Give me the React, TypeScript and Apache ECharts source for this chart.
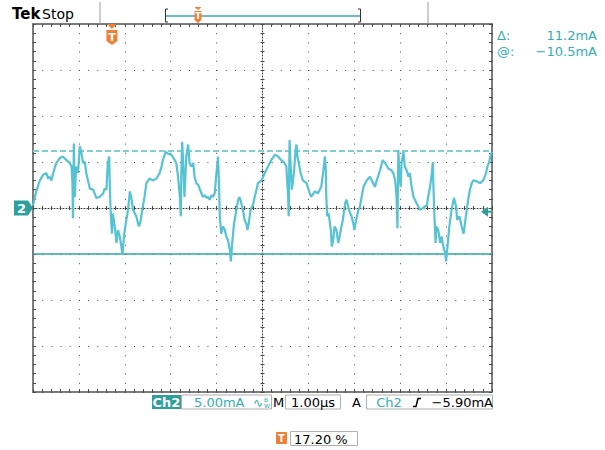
import React, { useEffect, useRef } from "react";
import * as echarts from "echarts";

// Horizontal: 1.00 µs/div, 10 divisions
const TIME_US: number[] = [
  0, 0.07, 0.15, 0.22, 0.29, 0.33, 0.36, 0.4, 0.44, 0.47, 0.51, 0.58, 0.65, 0.73, 0.8, 0.84, 0.86, 0.87, 0.89, 0.91,
  0.94, 0.98, 1.02, 1.05, 1.09, 1.13, 1.16, 1.24, 1.31, 1.38, 1.45, 1.53, 1.56, 1.6, 1.63, 1.66, 1.67, 1.69, 1.72, 1.74,
  1.78, 1.82, 1.85, 1.89, 1.92, 1.95, 1.98, 2.02, 2.07, 2.11, 2.14, 2.18, 2.22, 2.25, 2.29, 2.31, 2.34, 2.38, 2.43, 2.47,
  2.54, 2.61, 2.69, 2.76, 2.8, 2.83, 2.89, 2.94, 3.01, 3.09, 3.12, 3.16, 3.2, 3.22, 3.23, 3.25, 3.27, 3.3, 3.34, 3.38,
  3.41, 3.45, 3.49, 3.52, 3.56, 3.6, 3.63, 3.67, 3.7, 3.74, 3.78, 3.81, 3.85, 3.89, 3.92, 3.96, 3.99, 4.02, 4.03, 4.05,
  4.07, 4.1, 4.14, 4.18, 4.21, 4.25, 4.29, 4.31, 4.34, 4.38, 4.43, 4.47, 4.5, 4.54, 4.58, 4.61, 4.65, 4.67, 4.7, 4.74,
  4.79, 4.83, 4.87, 4.9, 4.98, 5.05, 5.12, 5.19, 5.27, 5.34, 5.41, 5.48, 5.52, 5.54, 5.56, 5.57, 5.59, 5.61, 5.64, 5.69,
  5.72, 5.74, 5.76, 5.79, 5.83, 5.88, 5.96, 6.03, 6.06, 6.14, 6.21, 6.28, 6.32, 6.36, 6.38, 6.39, 6.41, 6.44, 6.49, 6.51,
  6.54, 6.57, 6.61, 6.65, 6.68, 6.72, 6.75, 6.8, 6.83, 6.87, 6.91, 6.94, 6.98, 7.0, 7.04, 7.09, 7.12, 7.16, 7.2, 7.27,
  7.34, 7.41, 7.45, 7.49, 7.56, 7.62, 7.67, 7.74, 7.81, 7.85, 7.89, 7.92, 7.94, 7.96, 7.98, 8.01, 8.03, 8.07, 8.1, 8.14,
  8.18, 8.21, 8.25, 8.29, 8.36, 8.43, 8.5, 8.58, 8.61, 8.65, 8.69, 8.71, 8.72, 8.74, 8.77, 8.79, 8.83, 8.87, 8.9, 8.94,
  8.98, 9.0, 9.03, 9.07, 9.12, 9.17, 9.22, 9.24, 9.29, 9.34, 9.38, 9.41, 9.45, 9.48, 9.52, 9.56, 9.59, 9.67, 9.74, 9.81,
  9.87, 9.9, 9.94, 9.97, 10.0,
];

// Channel 2 current, mA (5.00 mA/div)
const CURRENT_MA: number[] = [
  -5.2, -3.7, -2.5, -1.9, -1.7, -2.3, -2.1, -2.5, -1.7, -1.2, -0.6, -0.1, 0.1, -0.3, -0.6, -1.0, -2.8, -6.6, 1.5, -4.3,
  -1.0, -1.7, 1.2, 0.6, -0.6, -0.5, -1.7, -3.4, -3.5, -4.4, -4.3, -3.9, -3.4, -3.5, -0.6, 0.1, -2.5, -5.7, -8.3, -6.1,
  -7.5, -9.3, -7.9, -8.6, -9.5, -10.6, -8.6, -7.2, -5.7, -3.7, -4.3, -5.7, -6.1, -6.4, -7.2, -7.5, -7.0, -5.7, -4.3, -2.8,
  -2.3, -2.5, -2.3, -1.7, -1.0, -0.3, 0.6, 0.4, 0.3, -0.3, -0.6, -2.1, -4.3, -6.4, -2.1, 1.7, -0.3, -4.3, 0.1, 1.4,
  -0.6, -1.0, -0.6, -2.1, -2.8, -3.0, -3.4, -3.9, -4.3, -4.1, -4.4, -4.3, -4.6, -4.1, -4.3, -3.9, -2.1, -0.5, 0.1, -2.5,
  -6.4, -8.3, -7.5, -7.9, -8.6, -9.0, -10.1, -11.3, -9.3, -7.2, -5.7, -4.6, -4.3, -5.0, -5.9, -6.8, -7.2, -7.9, -7.2, -5.7,
  -5.2, -4.3, -3.5, -2.8, -2.5, -1.7, -1.0, -0.3, 0.3, 0.1, -0.3, -0.6, -1.0, -2.8, -4.4, -6.4, 1.9, -0.6, -3.5, -1.4,
  0.8, 1.4, 0.1, -0.6, -1.7, -2.5, -2.8, -3.9, -4.3, -3.7, -3.9, -3.2, -1.7, 0.1, -1.4, -4.3, -6.4, -6.1, -7.9, -9.7,
  -9.0, -7.5, -7.9, -9.3, -8.6, -7.5, -6.8, -5.0, -4.6, -5.4, -6.1, -6.4, -7.2, -7.9, -6.8, -5.7, -5.4, -4.3, -3.2, -2.5,
  -2.1, -2.8, -3.2, -2.5, -1.4, -0.3, -0.6, -1.2, -1.4, -1.7, -2.5, -4.3, -7.7, 0.8, -1.7, -3.2, -0.6, 0.6, -1.0, -1.4,
  -2.1, -1.7, -3.2, -4.3, -5.0, -5.7, -5.5, -5.2, -4.3, -3.2, -1.7, -0.5, -2.5, -5.7, -9.3, -7.5, -7.9, -9.3, -8.6, -9.7,
  -10.4, -11.3, -9.7, -7.5, -5.7, -4.4, -5.4, -6.8, -6.4, -7.5, -8.3, -7.2, -5.7, -4.6, -3.5, -2.8, -2.5, -2.6, -2.8, -2.5,
  -1.7, -1.0, -0.5, 0.3, 0.6,
];

const SCREEN_TIME_US = [0, 10];
const SCREEN_CURRENT_MA = [-25.5, 14.5];
const DIV_X = [-5, 5];
const DIV_Y = [-4, 4];
const CURSOR_DASHED_MA = 0.7;
const CURSOR_SOLID_MA = -10.5;
const GROUND_MA = -5.5;
const TRIGGER_POS_US = 1.72;
const TRIGGER_LEVEL_MA = -5.9;

const CURSOR_LABELS = ["\u0394:", "@:"];
const CURSOR_VALUES = ["11.2mA", "\u221210.5mA"];
const CH_LABEL = "Ch2";
const CH_SCALE = "5.00mA";
const TIME_SCALE = "1.00\u00b5s";
const TRIG_LEVEL_TEXT = "\u22125.90mA";
const TRIG_POS_TEXT = "17.20 %";

const GRID = { left: 33, top: 24, width: 459, height: 368 };
const TEAL = "#2e9f9a";
const TEAL_TEXT = "#33aeb0";
const ORANGE = "#f07f33";
const TRACE = "#55c3d3";
const DOT = "#4a4a4a";
const FONT = '"DejaVu Sans", sans-serif';

const tickCfg = (inside: boolean, len: number) => ({
  axisTick: { show: true, inside, length: len, lineStyle: { color: DOT, width: 1 } },
  minorTick: { show: true, splitNumber: 5, length: len, lineStyle: { color: DOT, width: 1 } },
  axisLabel: { show: false },
});

function text(t: string, x: number, y: number, fill: string, font: string, align = "left") {
  return {
    type: "text",
    x,
    y,
    silent: true,
    z: 100,
    style: {
      text: t,
      fill,
      font,
      textAlign: align,
      align,
      textVerticalAlign: "middle",
      verticalAlign: "middle",
    },
  };
}

function buildGraphic(tx: number, gy: number, ty: number) {
  const els: any[] = [];
  // top header
  els.push(text("Tek", 12, 14, "#000", `bold 15px ${FONT}`));
  els.push(text("Stop", 42, 14, "#000", `14px ${FONT}`));
  els.push({ type: "line", silent: true, shape: { x1: 100, y1: 2, x2: 100, y2: 24 }, style: { stroke: "#9a9a9a", lineWidth: 1 } });
  els.push({ type: "line", silent: true, shape: { x1: 428, y1: 2, x2: 428, y2: 24 }, style: { stroke: "#9a9a9a", lineWidth: 1 } });
  // record bracket
  els.push({ type: "polyline", silent: true, shape: { points: [[168, 9], [165.5, 9], [165.5, 22], [168, 22]] }, style: { stroke: "#333", lineWidth: 1, fill: "none" } });
  els.push({ type: "polyline", silent: true, shape: { points: [[358, 9], [360.5, 9], [360.5, 22], [358, 22]] }, style: { stroke: "#333", lineWidth: 1, fill: "none" } });
  els.push({ type: "line", silent: true, shape: { x1: 166, y1: 16, x2: 360, y2: 16 }, style: { stroke: "#3aa9a9", lineWidth: 1.5 } });
  els.push({ type: "polygon", silent: true, shape: { points: [[194.5, 7], [201.5, 7], [198, 10]] }, style: { fill: ORANGE } });
  els.push({ type: "polygon", silent: true, shape: { points: [[194.5, 11], [201.5, 11], [201.5, 20], [198, 23], [194.5, 20]] }, style: { fill: ORANGE } });
  els.push(text("T", 198, 16, "#fff", `bold 9px ${FONT}`, "center"));
  // trigger position marker on graticule
  els.push({ type: "polygon", silent: true, z: 100, shape: { points: [[tx - 5, 24], [tx + 5, 24], [tx, 29]] }, style: { fill: ORANGE } });
  els.push({ type: "polygon", silent: true, z: 100, shape: { points: [[tx - 5.5, 30], [tx + 5.5, 30], [tx + 5.5, 41], [tx, 45], [tx - 5.5, 41]] }, style: { fill: ORANGE } });
  els.push(text("T", tx, 37, "#fff", `bold 11px ${FONT}`, "center"));
  // ground marker "2"
  els.push({ type: "polygon", silent: true, z: 100, shape: { points: [[14, gy - 7.5], [28, gy - 7.5], [33, gy], [28, gy + 7.5], [14, gy + 7.5]] }, style: { fill: TEAL } });
  els.push(text("2", 21.5, gy + 0.5, "#fff", `bold 13px ${FONT}`, "center"));
  // trigger level arrow
  els.push({ type: "polygon", silent: true, z: 100, shape: { points: [[481, ty], [488, ty - 5], [488, ty + 5]] }, style: { fill: TEAL } });
  els.push({ type: "line", silent: true, z: 100, shape: { x1: 487, y1: ty, x2: 492, y2: ty }, style: { stroke: TEAL, lineWidth: 2 } });
  // cursor readouts
  els.push(text(CURSOR_LABELS[0], 497, 35, TEAL_TEXT, `13px ${FONT}`));
  els.push(text(CURSOR_VALUES[0], 597, 35, TEAL_TEXT, `13px ${FONT}`, "right"));
  els.push(text(CURSOR_LABELS[1], 497, 51, TEAL_TEXT, `13px ${FONT}`));
  els.push(text(CURSOR_VALUES[1], 597, 51, TEAL_TEXT, `13px ${FONT}`, "right"));
  // status bar
  const sy = 395;
  const sh = 14;
  const cy = sy + sh / 2 + 0.5;
  els.push({ type: "rect", silent: true, shape: { x: 152, y: sy, width: 29, height: sh }, style: { fill: TEAL } });
  els.push(text(CH_LABEL, 166.5, cy, "#fff", `bold 13px ${FONT}`, "center"));
  els.push({ type: "rect", silent: true, shape: { x: 181.5, y: sy, width: 90, height: sh }, style: { fill: "none", stroke: "#b0b0b0", lineWidth: 1 } });
  els.push(text(CH_SCALE, 194, cy, TEAL_TEXT, `13px ${FONT}`));
  els.push(text("\u223f", 253, cy, TEAL_TEXT, `12px ${FONT}`));
  els.push(text("B", 264, cy - 3, TEAL_TEXT, `6px ${FONT}`));
  els.push(text("W", 264, cy + 3, TEAL_TEXT, `6px ${FONT}`));
  els.push(text("M", 278.5, cy, "#000", `13px ${FONT}`, "center"));
  els.push({ type: "rect", silent: true, shape: { x: 285.5, y: sy, width: 55, height: sh }, style: { fill: "none", stroke: "#b0b0b0", lineWidth: 1 } });
  els.push(text(TIME_SCALE, 313, cy, "#000", `13px ${FONT}`, "center"));
  els.push(text("A", 356.5, cy, "#000", `13px ${FONT}`, "center"));
  els.push({ type: "rect", silent: true, shape: { x: 366.5, y: sy, width: 126, height: sh }, style: { fill: "none", stroke: "#b0b0b0", lineWidth: 1 } });
  els.push(text(CH_LABEL, 389, cy, TEAL_TEXT, `13px ${FONT}`, "center"));
  els.push({ type: "polyline", silent: true, shape: { points: [[413, cy + 4], [416, cy + 4], [418, cy - 4], [421, cy - 4]] }, style: { stroke: "#000", lineWidth: 1.5, fill: "none" } });
  els.push(text(TRIG_LEVEL_TEXT, 493, cy, "#000", `13px ${FONT}`, "right"));
  // trigger position readout
  els.push({ type: "rect", silent: true, shape: { x: 276, y: 432, width: 11, height: 12, r: 1 }, style: { fill: ORANGE } });
  els.push(text("T", 281.5, 438.5, "#fff", `bold 10px ${FONT}`, "center"));
  els.push({ type: "rect", silent: true, shape: { x: 290.5, y: 431.5, width: 67, height: 14 }, style: { fill: "none", stroke: "#b0b0b0", lineWidth: 1 } });
  els.push(text(TRIG_POS_TEXT, 294, 439, "#000", `13px ${FONT}`));
  return els;
}

export default function App() {
  const ref = useRef<HTMLDivElement>(null);
  useEffect(() => {
    if (!ref.current) return;
    const chart = echarts.init(ref.current, null, { renderer: "svg", width: 605, height: 450 });
    const data = TIME_US.map((t, i) => [t, CURRENT_MA[i]]);
    const gridBox = { left: GRID.left, top: GRID.top, width: GRID.width, height: GRID.height };
    const centerLine = { color: "#3a3a3a", width: 1, type: [1, 2] };
    chart.setOption({
      animation: false,
      backgroundColor: "#ffffff",
      grid: [
        { ...gridBox, show: true, borderColor: "#7c7c7c", borderWidth: 2, backgroundColor: "transparent" },
        { ...gridBox },
        { ...gridBox },
      ],
      xAxis: [
        { gridIndex: 0, type: "value", min: SCREEN_TIME_US[0], max: SCREEN_TIME_US[1], show: false },
        {
          gridIndex: 1, type: "value", min: DIV_X[0], max: DIV_X[1], interval: 1, position: "bottom",
          axisLine: { show: false, onZero: false }, ...tickCfg(true, 3),
          splitLine: { show: true, lineStyle: { color: DOT, width: 1, type: [1, 8.2] } },
        },
        {
          gridIndex: 1, type: "value", min: DIV_X[0], max: DIV_X[1], interval: 1, position: "top",
          axisLine: { show: false, onZero: false }, ...tickCfg(true, 3), splitLine: { show: false },
        },
        {
          gridIndex: 2, type: "value", min: DIV_X[0], max: DIV_X[1], interval: 1, position: "bottom",
          axisLine: { show: true, onZero: true, lineStyle: centerLine },
          ...tickCfg(true, 2), splitLine: { show: false },
        },
        {
          gridIndex: 2, type: "value", min: DIV_X[0], max: DIV_X[1], interval: 1, position: "top",
          axisLine: { show: false, onZero: true, lineStyle: centerLine },
          ...tickCfg(true, 2), splitLine: { show: false },
        },
      ],
      yAxis: [
        { gridIndex: 0, type: "value", min: SCREEN_CURRENT_MA[0], max: SCREEN_CURRENT_MA[1], show: false },
        {
          gridIndex: 1, type: "value", min: DIV_Y[0], max: DIV_Y[1], interval: 1, position: "left",
          axisLine: { show: false, onZero: false }, ...tickCfg(true, 3),
          splitLine: { show: true, lineStyle: { color: DOT, width: 1, type: [1, 8.18] } },
        },
        {
          gridIndex: 1, type: "value", min: DIV_Y[0], max: DIV_Y[1], interval: 1, position: "right",
          axisLine: { show: false, onZero: false }, ...tickCfg(true, 3), splitLine: { show: false },
        },
        {
          gridIndex: 2, type: "value", min: DIV_Y[0], max: DIV_Y[1], interval: 1, position: "left",
          axisLine: { show: true, onZero: true, lineStyle: centerLine },
          ...tickCfg(true, 2), splitLine: { show: false },
        },
        {
          gridIndex: 2, type: "value", min: DIV_Y[0], max: DIV_Y[1], interval: 1, position: "right",
          axisLine: { show: false, onZero: true, lineStyle: centerLine },
          ...tickCfg(true, 2), splitLine: { show: false },
        },
      ],
      series: [
        {
          type: "line",
          xAxisIndex: 0,
          yAxisIndex: 0,
          data,
          showSymbol: false,
          symbol: "none",
          silent: true,
          z: 5,
          lineStyle: { color: TRACE, width: 2.2 },
          markLine: {
            silent: true,
            symbol: "none",
            label: { show: false },
            animation: false,
            data: [
              { yAxis: CURSOR_DASHED_MA, lineStyle: { color: "#7fcfcf", width: 2, type: [6, 3] } },
              { yAxis: CURSOR_SOLID_MA, lineStyle: { color: "#2ea8a6", width: 1.5, type: "solid" } },
            ],
          },
        },
      ],
    });
    const tx = chart.convertToPixel({ xAxisIndex: 0 }, TRIGGER_POS_US) as unknown as number;
    const gy = chart.convertToPixel({ yAxisIndex: 0 }, GROUND_MA) as unknown as number;
    const ty = chart.convertToPixel({ yAxisIndex: 0 }, TRIGGER_LEVEL_MA) as unknown as number;
    chart.setOption({ graphic: { elements: buildGraphic(tx, gy, ty) } });
    return () => chart.dispose();
  }, []);
  return <div ref={ref} style={{ position: "absolute", left: 0, top: 0, width: 605, height: 450, background: "#fff" }} />;
}
